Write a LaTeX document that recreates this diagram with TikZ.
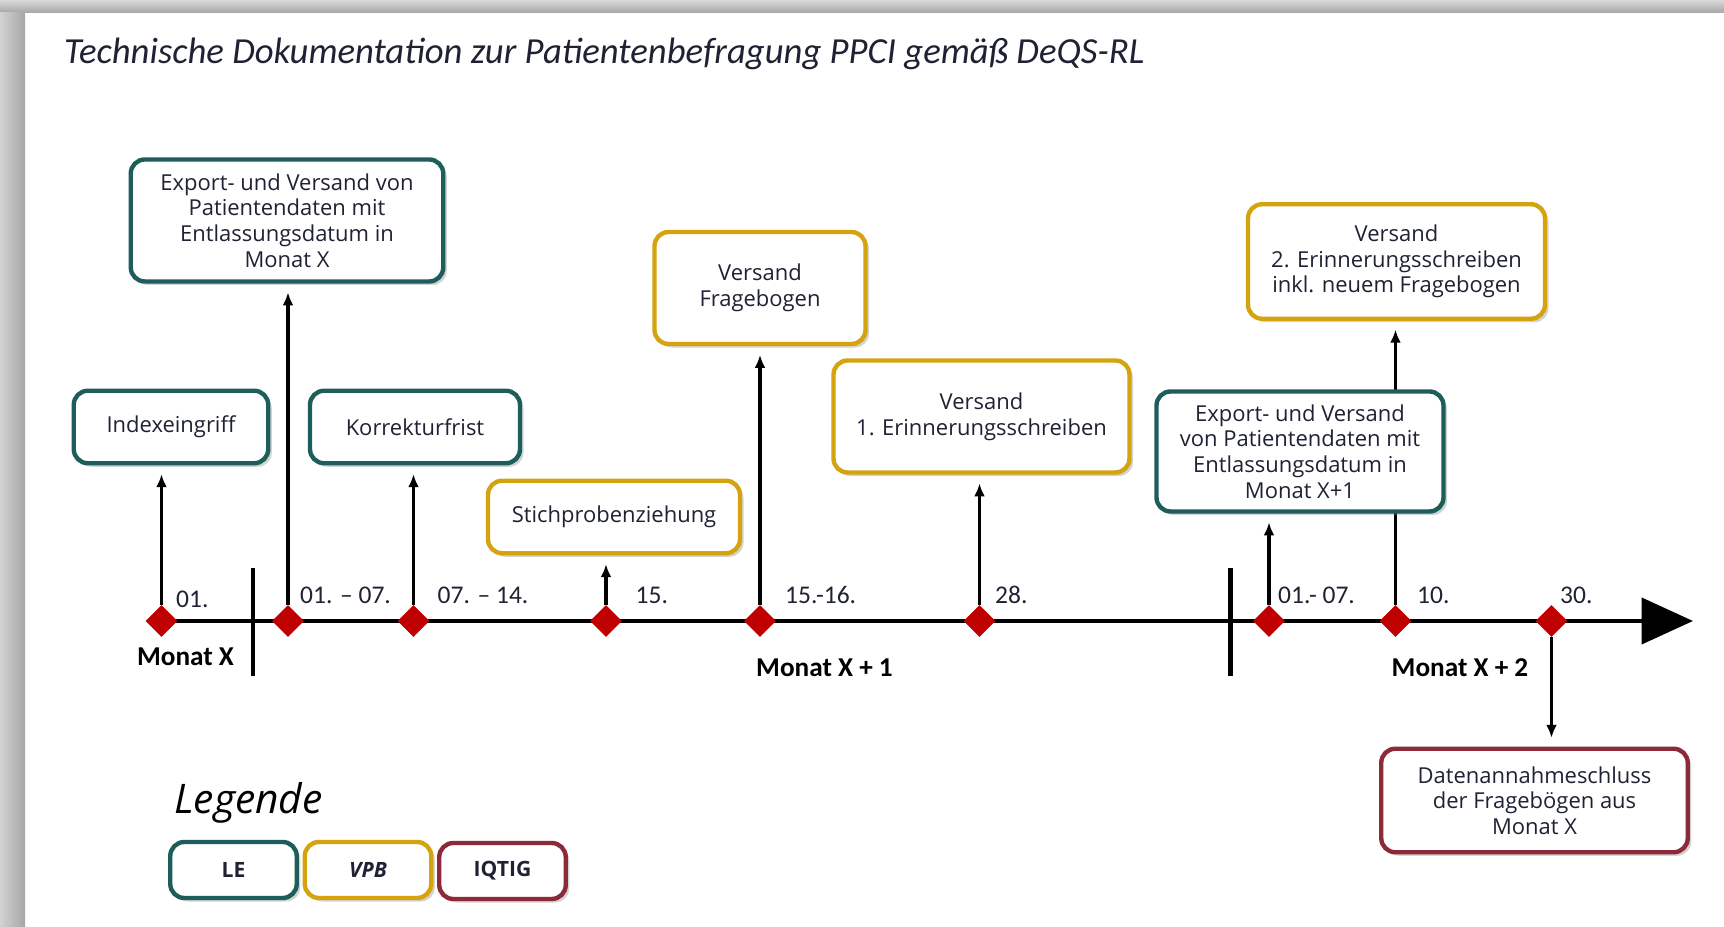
\documentclass[tikz,border=0pt]{standalone}
\usepackage{fontspec}
\setmainfont{Open Sans}
\newfontfamily\calfont{Carlito}
\usetikzlibrary{shapes.geometric,arrows.meta,shadows}
\definecolor{le}{HTML}{1E5E5A}
\definecolor{vpb}{HTML}{D4A30F}
\definecolor{iqtig}{HTML}{8C2A3A}
\definecolor{dia}{HTML}{C00000}
\definecolor{txt}{HTML}{1F2233}
\newcommand{\boxfont}{\fontsize{12.5}{14.6}\selectfont}
\tikzset{le/.style={draw=le,line width=2.5pt,fill=white,rounded corners=8pt,align=center,text=txt,font=\boxfont,drop shadow={shadow xshift=2pt,shadow yshift=-2pt,opacity=0.35}}}
\tikzset{vpb/.style={draw=vpb,line width=2.5pt,fill=white,rounded corners=8pt,align=center,text=txt,font=\boxfont,drop shadow={shadow xshift=2pt,shadow yshift=-2pt,opacity=0.35}}}
\tikzset{iqtig/.style={draw=iqtig,line width=2.5pt,fill=white,rounded corners=8pt,align=center,text=txt,font=\boxfont,drop shadow={shadow xshift=2pt,shadow yshift=-2pt,opacity=0.35}}}
\tikzset{dia/.style={diamond,fill=dia,inner sep=0pt,minimum width=0.64cm,minimum height=0.64cm}}
\tikzset{day/.style={anchor=base west,text=txt,font=\calfont\fontsize{14.5}{16}\selectfont}}
\tikzset{month/.style={anchor=base,text=black,font=\calfont\bfseries\fontsize{15.5}{18}\selectfont}}
\tikzset{arr/.style={-{Latex[length=0.26cm,width=0.22cm]},line width=2.1pt,shorten >=5pt}}

\begin{document}
\begin{tikzpicture}
    \useasboundingbox (0,0) rectangle (34.48,18.54);
    \shade[top color=gray!30,bottom color=gray!70] (0,18.28) rectangle (34.48,18.54);
    \shade[left color=gray!35,right color=gray!70] (0,0) rectangle (0.5,18.28);

    \node[anchor=base west,text=txt,font=\calfont\itshape\fontsize{20.9}{24}\selectfont] (title) at (1.16,17.26)
    {Technische Dokumentation zur Patientenbefragung PPCI gemäß DeQS-RL};

    % Zeitstrahl
    \coordinate (start) at (3.23,6.12);
    \coordinate (end) at (33.86,6.12);
    \draw[line width=2.5pt,-{Triangle[length=1.03cm,width=0.92cm]}] (start) -- (end);
    \draw[line width=2.3pt] (5.06,7.17) -- (5.06,5.02);
    \draw[line width=2.3pt] (24.61,7.17) -- (24.61,5.02);

    \node[dia] (p1) at (3.23,6.12) {};
    \node[dia] (p2) at (5.76,6.12) {};
    \node[dia] (p3) at (8.27,6.12) {};
    \node[dia] (p4) at (12.12,6.12) {};
    \node[dia] (p5) at (15.20,6.12) {};
    \node[dia] (p6) at (19.59,6.12) {};
    \node[dia] (p7) at (25.38,6.12) {};
    \node[dia] (p8) at (27.91,6.12) {};
    \node[dia] (p9) at (31.03,6.12) {};

    \node[day] (l1) at (3.40,6.38) {01.};
    \node[day] (l2) at (5.88,6.47) {01. – 07.};
    \node[day] (l3) at (8.63,6.47) {07. – 14.};
    \node[day] (l4) at (12.59,6.47) {15.};
    \node[day] (l5) at (15.58,6.47) {15.-16.};
    \node[day] (l6) at (19.78,6.47) {28.};
    \node[day] (l7) at (25.44,6.47) {01.- 07.};
    \node[day] (l8) at (28.22,6.47) {10.};
    \node[day] (l9) at (31.08,6.47) {30.};

    \node[month] (mx) at (3.71,5.22) {Monat X};
    \node[month] (mx1) at (16.49,5.01) {Monat X + 1};
    \node[month] (mx2) at (29.20,5.01) {Monat X + 2};

    % Kaesten
    \node[le,minimum width=3.89cm,minimum height=1.45cm] (idx) at (3.42,10.00) {Indexeingriff};
    \node[le,minimum width=6.25cm,minimum height=2.44cm] (exp1) at (5.74,14.13)
    {Export- und Versand von\\Patientendaten mit\\Entlassungsdatum in\\Monat X};
    \node[le,minimum width=4.2cm,minimum height=1.45cm] (korr) at (8.30,10.00) {Korrekturfrist};
    \node[vpb,minimum width=5.04cm,minimum height=1.45cm] (stich) at (12.28,8.20) {Stichprobenziehung};
    \node[vpb,minimum width=4.22cm,minimum height=2.24cm] (frage) at (15.20,12.78) {Versand\\Fragebogen};
    \node[vpb,minimum width=5.92cm,minimum height=2.24cm] (erin1) at (19.63,10.21)
    {Versand\\1. Erinnerungsschreiben};
    \node[vpb,minimum width=5.94cm,minimum height=2.29cm] (erin2) at (27.93,13.31)
    {Versand\\2. Erinnerungsschreiben\\inkl. neuem Fragebogen};

    \draw[arr] (p8.north) -- (p8 |- erin2.south);

    \node[le,minimum width=5.74cm,minimum height=2.40cm] (exp2) at (26.00,9.51)
    {Export- und Versand\\von Patientendaten mit\\Entlassungsdatum in\\Monat X+1};
    \node[iqtig,minimum width=6.13cm,minimum height=2.07cm] (schluss) at (30.69,2.53)
    {Datenannahmeschluss\\der Fragebögen aus\\Monat X};

    \draw[arr] (p1.north) -- (p1 |- idx.south);
    \draw[arr] (p2.north) -- (p2 |- exp1.south);
    \draw[arr] (p3.north) -- (p3 |- korr.south);
    \draw[arr] (p4.north) -- (p4 |- stich.south);
    \draw[arr] (p5.north) -- (p5 |- frage.south);
    \draw[arr] (p6.north) -- (p6 |- erin1.south);
    \draw[arr] (p7.north) -- (p7 |- exp2.south);
    \draw[arr] (p9.south) -- (p9 |- schluss.north);

    % Legende
    \node[anchor=base west,text=black,font=\itshape\fontsize{23.2}{26}\selectfont] (leg) at (3.36,2.27) {Legende};
    \node[le,minimum width=2.53cm,minimum height=1.12cm,font=\bfseries\fontsize{12}{14}\selectfont] (kle) at (4.67,1.14) {LE};
    \node[vpb,minimum width=2.53cm,minimum height=1.12cm,font=\bfseries\itshape\fontsize{12}{14}\selectfont] (kvpb) at (7.36,1.14) {VPB};
    \node[iqtig,minimum width=2.53cm,minimum height=1.12cm,font=\bfseries\fontsize{12}{14}\selectfont] (kiqtig) at (10.05,1.12) {IQTIG};
\end{tikzpicture}
\end{document}
